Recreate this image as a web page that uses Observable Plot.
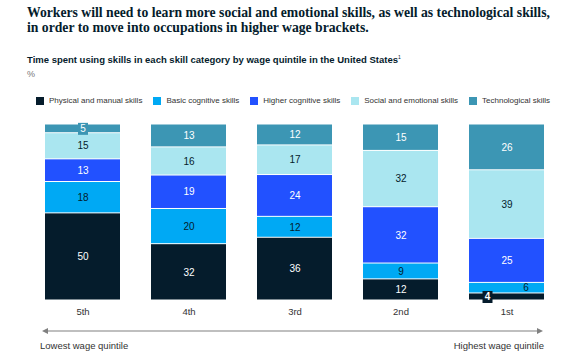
<!DOCTYPE html>
<html><head><meta charset="utf-8">
<script src="https://cdn.jsdelivr.net/npm/d3@7"></script>
<script src="https://cdn.jsdelivr.net/npm/@observablehq/plot@0.6"></script>
<style>
body{margin:0;width:562px;height:361px;background:#fff;position:relative;overflow:hidden;font-family:"Liberation Sans",Arial,sans-serif;}
#title{position:absolute;left:27px;top:5px;font-weight:bold;font-size:13.7px;line-height:15px;font-family:"Liberation Serif",serif;color:#051c2c;white-space:nowrap;}
#subtitle{position:absolute;left:27px;top:52px;font-weight:bold;font-size:9.5px;line-height:11px;color:#051c2c;white-space:nowrap;}
#subtitle sup{font-size:5px;font-weight:normal;}
#unit{position:absolute;left:27px;top:69px;font-size:9px;line-height:11px;color:#777;}
#legend{position:absolute;left:36px;top:96px;display:flex;gap:11px;font-size:8px;line-height:10px;color:#333;white-space:nowrap;}
#legend .item{display:flex;align-items:center;gap:5px;}
#legend .sw{width:8px;height:8px;display:inline-block;}
#chart{position:absolute;left:0;top:110px;}
#arrow{position:absolute;left:0;top:320px;}
.end{position:absolute;top:340px;font-size:9.5px;line-height:11px;color:#333;}
</style></head><body>
<div id="title">Workers will need to learn more social and emotional skills, as well as technological skills,<br>in order to move into occupations in higher wage brackets.</div>
<div id="subtitle">Time spent using skills in each skill category by wage quintile in the United States<sup>1</sup></div>
<div id="unit">%</div>
<div id="legend"></div>
<div id="chart"></div>
<svg id="arrow" width="562" height="20">
  <line x1="46" y1="11" x2="539" y2="11" stroke="#808080" stroke-width="1.2"/>
  <polygon points="42,11 48,8 48,14" fill="#808080"/>
  <polygon points="543,11 537,8 537,14" fill="#808080"/>
</svg>
<div class="end" style="left:40px;">Lowest wage quintile</div>
<div class="end" style="right:18px;">Highest wage quintile</div>
<script>
const quintiles = ["5th","4th","3rd","2nd","1st"];
const skills = ["Physical and manual skills","Basic cognitive skills","Higher cognitive skills","Social and emotional skills","Technological skills"];
const physical = [50,32,36,12,4];
const basic = [18,20,12,9,6];
const higher = [13,19,24,32,25];
const social = [15,16,17,32,39];
const tech = [5,13,12,15,26];
const colors = ["#051c2c","#00a9f4","#2251ff","#aae6f0","#3c96b4"];
const labelColors = ["#ffffff","#051c2c","#ffffff","#051c2c","#ffffff"];

const series = [physical, basic, higher, social, tech];
const data = [];
skills.forEach((s, i) => quintiles.forEach((q, j) => data.push({quintile: q, skill: s, si: i, value: series[i][j]})));

// legend
const leg = document.getElementById("legend");
skills.forEach((s, i) => {
  const it = document.createElement("div"); it.className = "item";
  it.innerHTML = `<span class="sw" style="background:${colors[i]}"></span><span>${s}</span>`;
  leg.appendChild(it);
});

const boxSym = {draw(ctx){ ctx.moveTo(-5,-6); ctx.lineTo(5,-6); ctx.lineTo(5,6); ctx.lineTo(-5,6); ctx.closePath(); }};
const st = (o) => Plot.stackY({x: "quintile", y: "value", z: "skill", offset: "normalize", ...o});
const isBoxed = d => d.value <= 5;
const shiftLeft = d => d.quintile === "1st" && d.si === 0;
const shiftRight = d => d.quintile === "1st" && d.si === 1;
const plain = d => !shiftLeft(d) && !shiftRight(d);

const marks = [
  Plot.barY(data, st({fill: "skill", insetTop: 0.5, insetBottom: 0.5})),
];
skills.forEach((s, i) => {
  marks.push(Plot.dot(data, Plot.filter(d => d.si === i && isBoxed(d) && plain(d), st({symbol: boxSym, fill: colors[i], stroke: null}))));
});
marks.push(Plot.dot(data, Plot.filter(d => shiftLeft(d), st({symbol: boxSym, fill: colors[0], stroke: null, dx: -19.5}))));
skills.forEach((s, i) => {
  marks.push(Plot.text(data, Plot.filter(d => d.si === i && plain(d), st({text: "value", fill: labelColors[i], fontSize: 10}))));
});
marks.push(Plot.text(data, Plot.filter(d => shiftLeft(d), st({text: "value", fill: labelColors[0], fontSize: 10, fontWeight: "bold", dx: -19.5}))));
marks.push(Plot.text(data, Plot.filter(d => shiftRight(d), st({text: "value", fill: labelColors[1], fontSize: 10, dx: 19}))));

const chart = Plot.plot({
  width: 562,
  height: 215,
  marginTop: 14,
  marginBottom: 25,
  marginLeft: 43,
  marginRight: 16,
  style: {fontFamily: "Liberation Sans, Arial, sans-serif", fontSize: "9.5px", color: "#333", background: "transparent"},
  x: {domain: quintiles, paddingInner: 0.29, paddingOuter: 0, label: null, tickSize: 0, tickPadding: 8},
  y: {axis: null, domain: [0, 1]},
  color: {domain: skills, range: colors},
  marks
});
document.getElementById("chart").appendChild(chart);
</script>
</body></html>
